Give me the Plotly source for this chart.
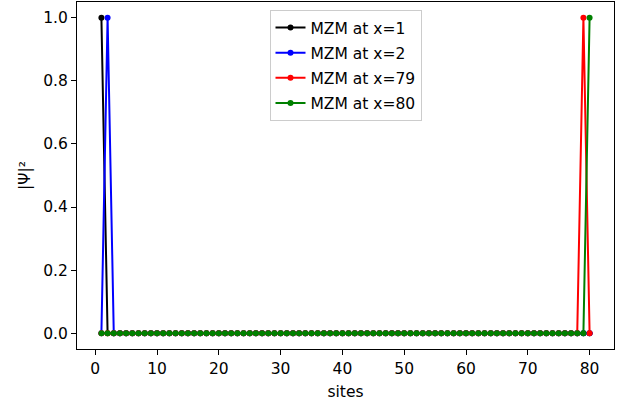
import plotly.graph_objects as go

sites = list(range(1, 81))

# |psi|^2 per site for each Majorana zero mode
mzm_x1 = [1.0, 0, 0, 0, 0, 0, 0, 0, 0, 0, 0, 0, 0, 0, 0, 0, 0, 0, 0, 0,
          0, 0, 0, 0, 0, 0, 0, 0, 0, 0, 0, 0, 0, 0, 0, 0, 0, 0, 0, 0,
          0, 0, 0, 0, 0, 0, 0, 0, 0, 0, 0, 0, 0, 0, 0, 0, 0, 0, 0, 0,
          0, 0, 0, 0, 0, 0, 0, 0, 0, 0, 0, 0, 0, 0, 0, 0, 0, 0, 0, 0]
mzm_x2 = [0, 1.0, 0, 0, 0, 0, 0, 0, 0, 0, 0, 0, 0, 0, 0, 0, 0, 0, 0, 0,
          0, 0, 0, 0, 0, 0, 0, 0, 0, 0, 0, 0, 0, 0, 0, 0, 0, 0, 0, 0,
          0, 0, 0, 0, 0, 0, 0, 0, 0, 0, 0, 0, 0, 0, 0, 0, 0, 0, 0, 0,
          0, 0, 0, 0, 0, 0, 0, 0, 0, 0, 0, 0, 0, 0, 0, 0, 0, 0, 0, 0]
mzm_x79 = [0, 0, 0, 0, 0, 0, 0, 0, 0, 0, 0, 0, 0, 0, 0, 0, 0, 0, 0, 0,
           0, 0, 0, 0, 0, 0, 0, 0, 0, 0, 0, 0, 0, 0, 0, 0, 0, 0, 0, 0,
           0, 0, 0, 0, 0, 0, 0, 0, 0, 0, 0, 0, 0, 0, 0, 0, 0, 0, 0, 0,
           0, 0, 0, 0, 0, 0, 0, 0, 0, 0, 0, 0, 0, 0, 0, 0, 0, 0, 1.0, 0]
mzm_x80 = [0, 0, 0, 0, 0, 0, 0, 0, 0, 0, 0, 0, 0, 0, 0, 0, 0, 0, 0, 0,
           0, 0, 0, 0, 0, 0, 0, 0, 0, 0, 0, 0, 0, 0, 0, 0, 0, 0, 0, 0,
           0, 0, 0, 0, 0, 0, 0, 0, 0, 0, 0, 0, 0, 0, 0, 0, 0, 0, 0, 0,
           0, 0, 0, 0, 0, 0, 0, 0, 0, 0, 0, 0, 0, 0, 0, 0, 0, 0, 0, 1.0]

series_names = ["MZM at x=1", "MZM at x=2", "MZM at x=79", "MZM at x=80"]
series_values = [mzm_x1, mzm_x2, mzm_x79, mzm_x80]
series_colors = ["black", "blue", "red", "green"]

x_ticks = [0, 10, 20, 30, 40, 50, 60, 70, 80]
y_ticks = [0.0, 0.2, 0.4, 0.6, 0.8, 1.0]

fig = go.Figure()
for i, (name, vals, col) in enumerate(zip(series_names, series_values, series_colors)):
    fig.add_trace(go.Scatter(
        x=sites, y=vals, name=name, mode="lines+markers",
        line=dict(color=col, width=2),
        marker=dict(color=col, size=6),
        legendgroup=f"g{i}",
    ))

font = "DejaVu Sans, sans-serif"
fs = 15.5
fig.update_layout(
    width=635, height=402,
    margin=dict(l=77, r=21, t=2, b=53),
    plot_bgcolor="white", paper_bgcolor="white",
    font=dict(family=font, size=fs, color="black"),
    showlegend=True,
    legend=dict(
        x=0.5, xanchor="center", y=0.977, yanchor="top",
        bgcolor="white", bordercolor="#cccccc", borderwidth=1,
        font=dict(family=font, size=fs),
        tracegroupgap=2,
    ),
    xaxis=dict(
        range=[-2.95, 83.95], tickvals=x_ticks,
        showgrid=False, zeroline=False,
        showline=True, linecolor="black", linewidth=1, mirror=True,
        ticks="outside", ticklen=5, tickcolor="black", tickwidth=1,
        title=dict(text="sites", standoff=9, font=dict(size=fs)),
    ),
    yaxis=dict(
        range=[-0.05, 1.05], tickvals=y_ticks, tickformat=".1f",
        showgrid=False, zeroline=False,
        showline=True, linecolor="black", linewidth=1, mirror=True,
        ticks="outside", ticklen=5, tickcolor="black", tickwidth=1,
        title=dict(text="|Ψ|²", standoff=8, font=dict(size=fs)),
    ),
)

fig.write_html("out.html")
